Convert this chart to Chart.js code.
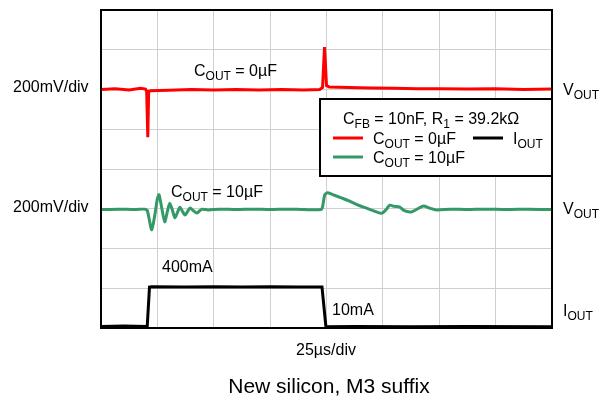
<!DOCTYPE html>
<html lang="en">
<head>
  <meta charset="UTF-8">
  <title>Load transient, M3 suffix</title>
  <script src="https://cdn.jsdelivr.net/npm/chart.js"></script>
  <style>
    html, body { margin: 0; padding: 0; background: #fff; }
    #wrap { width: 605px; height: 400px; position: relative; }
  </style>
</head>
<body>
  <div id="wrap"><canvas id="scope"></canvas></div>

  <script>
    // time axis in divisions (25us/div), values in vertical divisions from the bottom
    const redT = [0, 0.25, 0.5, 0.7, 0.79, 0.81, 0.83, 0.845, 0.88, 1.2, 1.6, 2.0, 2.4, 2.8, 3.2, 3.6, 3.88, 3.93, 3.965, 4.0, 4.05, 4.4, 4.8, 5.2, 5.6, 6.0, 6.5, 7.0, 7.5, 8.0];
    const redV = [6.0, 6.02, 5.99, 6.03, 6.01, 5.95, 4.8, 5.95, 5.97, 5.98, 6.0, 5.99, 6.0, 5.99, 6.0, 5.99, 6.0, 6.05, 7.07, 6.1, 6.06, 6.05, 6.04, 6.03, 6.02, 6.02, 6.01, 6.02, 6.0, 6.01];

    const greenT = [0, 0.3, 0.6, 0.78, 0.82, 0.86, 0.9, 0.95, 1.0, 1.03, 1.08, 1.13, 1.18, 1.22, 1.27, 1.31, 1.36, 1.4, 1.45, 1.49, 1.54, 1.58, 1.64, 1.7, 1.75, 1.79, 1.9, 2.1, 2.4, 2.7, 3.0, 3.3, 3.6, 3.9, 3.93, 3.97, 4.02, 4.1, 4.25, 4.4, 4.55, 4.7, 4.85, 4.95, 5.0, 5.07, 5.12, 5.2, 5.3, 5.38, 5.5, 5.62, 5.72, 5.82, 5.95, 6.2, 6.5, 6.8, 7.2, 7.6, 8.0];
    const greenV = [2.98, 2.99, 2.98, 2.99, 2.96, 2.7, 2.47, 2.8, 3.25, 3.35, 3.0, 2.67, 2.95, 3.14, 2.95, 2.77, 2.92, 3.04, 2.92, 2.84, 2.94, 3.02, 2.95, 2.89, 2.95, 2.99, 2.97, 2.99, 2.98, 2.99, 2.98, 2.99, 2.98, 2.98, 3.05, 3.35, 3.4, 3.36, 3.28, 3.2, 3.1, 3.02, 2.94, 2.89, 2.9, 3.0, 3.09, 3.06, 3.04, 2.95, 2.92, 3.0, 3.07, 3.02, 2.97, 2.99, 2.98, 2.99, 2.98, 2.99, 2.98];

    const blackT = [0, 0.4, 0.82, 0.86, 0.9, 1.5, 2.0, 2.5, 3.0, 3.5, 3.92, 3.99, 4.5, 5.5, 6.5, 8.0];
    const blackV = [0.04, 0.05, 0.04, 1.03, 1.04, 1.03, 1.04, 1.03, 1.04, 1.03, 1.03, 0.03, 0.04, 0.03, 0.04, 0.03];

    const xDivs = 8;
    const yDivs = 8;

    const pts = (t, v) => t.map((x, i) => ({ x: x, y: v[i] }));

    const FONT = '"Liberation Sans", Arial, sans-serif';

    // text with subscripts: parts = [[text, isSub], ...], y is the baseline
    function drawRich(ctx, parts, x, y, align, size) {
      size = size || 16;
      const big = size + 'px ' + FONT;
      const small = Math.round(size * 0.75) + 'px ' + FONT;
      let w = 0;
      parts.forEach(p => { ctx.font = p[1] ? small : big; w += ctx.measureText(p[0]).width; });
      let cx = align === 'center' ? x - w / 2 : (align === 'right' ? x - w : x);
      ctx.textAlign = 'left';
      ctx.textBaseline = 'alphabetic';
      ctx.fillStyle = '#000';
      parts.forEach(p => {
        ctx.font = p[1] ? small : big;
        ctx.fillText(p[0], cx, p[1] ? y + 4 : y);
        cx += ctx.measureText(p[0]).width;
      });
    }

    const scopeText = {
      id: 'scopeText',
      afterDraw(chart) {
        const ctx = chart.ctx;
        const a = chart.chartArea;
        ctx.save();

        // frame
        ctx.strokeStyle = '#000';
        ctx.lineWidth = 2;
        ctx.strokeRect(a.left, a.top, a.right - a.left, a.bottom - a.top);

        // trace labels
        drawRich(ctx, [['C'], ['OUT', 1], [' = 0µF']], 194, 76, 'left');
        drawRich(ctx, [['C'], ['OUT', 1], [' = 10µF']], 171, 197, 'left');
        drawRich(ctx, [['400mA']], 162, 272, 'left');
        drawRich(ctx, [['10mA']], 332, 315, 'left');

        // side labels
        drawRich(ctx, [['200mV/div']], 13, 92, 'left');
        drawRich(ctx, [['200mV/div']], 13, 212, 'left');
        drawRich(ctx, [['V'], ['OUT', 1]], 563, 95, 'left');
        drawRich(ctx, [['V'], ['OUT', 1]], 563, 214, 'left');
        drawRich(ctx, [['I'], ['OUT', 1]], 563, 316, 'left');

        // bottom
        drawRich(ctx, [['25µs/div']], 326, 355, 'center');
        drawRich(ctx, [['New silicon, M3 suffix']], 329, 393, 'center', 21);

        // legend box
        ctx.fillStyle = '#fff';
        ctx.fillRect(320, 99, a.right - 320, 77);
        ctx.strokeStyle = '#000';
        ctx.lineWidth = 2;
        ctx.strokeRect(320, 99, a.right - 320, 77);

        drawRich(ctx, [['C'], ['FB', 1], [' = 10nF, R'], ['1', 1], [' = 39.2kΩ']], 343, 124, 'left');

        const ds = chart.data.datasets;
        const rows = [
          { x1: 333, x2: 363, y: 138, ds: 0, tx: 373, ty: 144, parts: [['C'], ['OUT', 1], [' = 0µF']] },
          { x1: 473, x2: 503, y: 138, ds: 2, tx: 513, ty: 144, parts: [['I'], ['OUT', 1]] },
          { x1: 333, x2: 363, y: 157, ds: 1, tx: 373, ty: 163, parts: [['C'], ['OUT', 1], [' = 10µF']] }
        ];
        rows.forEach(r => {
          ctx.strokeStyle = ds[r.ds].borderColor;
          ctx.lineWidth = 3;
          ctx.beginPath();
          ctx.moveTo(r.x1, r.y);
          ctx.lineTo(r.x2, r.y);
          ctx.stroke();
          drawRich(ctx, r.parts, r.tx, r.ty, 'left');
        });

        ctx.restore();
      }
    };

    new Chart(document.getElementById('scope'), {
      type: 'scatter',
      data: {
        datasets: [
          { label: 'COUT = 0µF', data: pts(redT, redV), borderColor: '#ff0000', tension: 0 },
          { label: 'COUT = 10µF', data: pts(greenT, greenV), borderColor: '#339966', tension: 0.25 },
          { label: 'IOUT', data: pts(blackT, blackV), borderColor: '#000000', tension: 0 }
        ]
      },
      options: {
        responsive: true,
        maintainAspectRatio: false,
        animation: false,
        showLine: true,
        elements: {
          point: { radius: 0, hoverRadius: 0 },
          line: { borderWidth: 3, fill: false }
        },
        layout: { padding: { left: 101, top: 10, right: 53, bottom: 72 } },
        plugins: {
          legend: { display: false },
          tooltip: { enabled: false }
        },
        scales: {
          x: {
            type: 'linear',
            min: 0,
            max: xDivs,
            ticks: { display: false, stepSize: 1 },
            grid: { color: '#cfcfcf', lineWidth: 1, drawTicks: false },
            border: { display: false }
          },
          y: {
            type: 'linear',
            min: 0,
            max: yDivs,
            ticks: { display: false, stepSize: 1 },
            grid: { color: '#cfcfcf', lineWidth: 1, drawTicks: false },
            border: { display: false }
          }
        }
      },
      plugins: [scopeText]
    });
  </script>
</body>
</html>
